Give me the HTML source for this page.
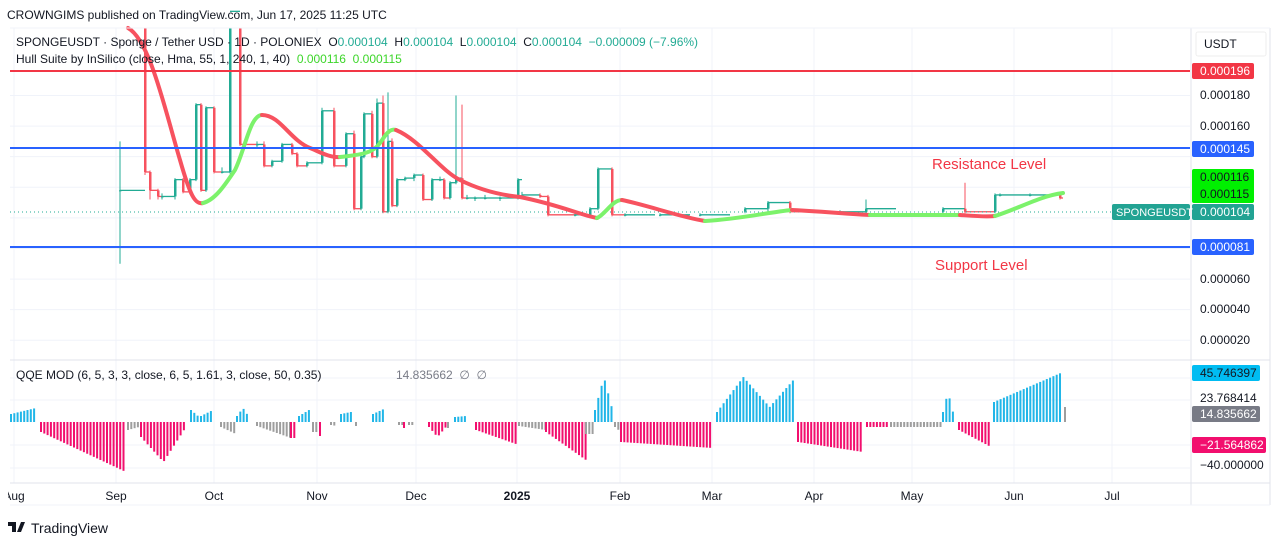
<!DOCTYPE html>
<html><head><meta charset="utf-8"><style>
body{margin:0;background:#fff;width:1281px;height:546px;overflow:hidden;font-family:"Liberation Sans",sans-serif}
svg text{font-family:"Liberation Sans",sans-serif}
</style></head><body>
<svg id="s" width="1281" height="546" xmlns="http://www.w3.org/2000/svg">
<rect width="1281" height="546" fill="#fff"/>
<g id="grid"></g>
<g id="cand"></g>
<g id="hull"></g>
<g id="qqe"></g>
<g id="fg"></g>
</svg>
<script>
const NS="http://www.w3.org/2000/svg";
function el(p,t,a,txt){const e=document.createElementNS(NS,t);for(const k in a)e.setAttribute(k,a[k]);if(txt!==undefined)e.textContent=txt;document.getElementById(p).appendChild(e);return e;}
const Y=p=>71+(196-p)*1.530;
const months=[[14,"Aug"],[116,"Sep"],[214,"Oct"],[317,"Nov"],[416,"Dec"],[517,"2025"],[620,"Feb"],[712,"Mar"],[814,"Apr"],[912,"May"],[1014,"Jun"],[1112,"Jul"]];
months.forEach(m=>{el("grid","line",{x1:m[0],x2:m[0],y1:28,y2:483,stroke:"#f0f3fa","stroke-width":1});});
[180,160,140,120,100,80,60,40,20].forEach(p=>el("grid","line",{x1:10,x2:1190,y1:Y(p),y2:Y(p),stroke:"#f0f3fa"}));
[378,400,445,468].forEach(y=>el("grid","line",{x1:10,x2:1190,y1:y,y2:y,stroke:"#f0f3fa"}));
const C=[[120,118,118,150,70],[145,240,130,240,128],[150,130,118,131,112],[158,118,114,119,112],[162,114,114,116,112],[175,114,125,126,112],[183,125,117,126,116],[190,117,125,126,116],[196,125,174,175,124],[201,174,118,175,117],[206,118,172,173,117],[214,172,130,173,129],[222,130,130,133,129],[230,130,235,240,129],[240,235,148,240,147],[257,148,148,150,146],[264,148,134,150,133],[272,134,137,138,133],[282,137,148,149,136],[292,148,142,149,141],[297,142,134,143,133],[307,134,136,137,133],[322,136,170,172,135],[334,170,134,172,133],[346,134,155,156,133],[354,155,106,157,105],[361,106,140,142,105],[364,140,168,169,139],[372,168,140,170,139],[377,140,175,178,139],[383,175,104,180,103],[388,104,150,182,103],[392,150,108,152,107],[397,108,125,126,107],[405,125,126,127,124],[414,126,128,129,124],[423,128,112,129,111],[432,112,125,126,111],[440,125,125,127,124],[444,125,113,126,112],[450,113,123,124,112],[456,123,126,180,122],[462,126,113,174,112],[467,113,113,115,112],[475,113,113,114,111],[485,113,113,115,112],[500,113,113,114,111],[518,113,125,126,112],[522,115,115,117,113],[540,115,114,116,113],[548,114,102,115,101],[575,102,102,103,101],[590,102,106,107,101],[598,106,132,133,105],[612,132,102,133,101],[625,102,102,103,101],[660,102,102,103,101],[700,102,102,103,101],[745,104,106,107,103],[768,106,110,111,103],[790,110,104,111,103],[840,104,104,105,103],[866,104,106,112,103],[943,104,106,107,103],[965,106,104,123,103],[995,104,115,116,103],[1000,115,115,116,114],[1030,115,115,116,114],[1060,115,113,116,112]];
for(let i=0;i<C.length;i++){const [x,o,c,h,l]=C[i];const col=c>=o?"#22ab94":"#f7525f";const nx=i+1<C.length?C[i+1][0]:x+3;
 el("cand","line",{x1:x,x2:x,y1:Math.max(28,Y(h)),y2:Y(l),stroke:col,"stroke-width":1});
 const y1=Math.max(28,Math.min(Y(o),Y(c))),y2=Math.max(Y(o),Y(c));
 el("cand","rect",{x:x-1,y:y1,width:2.5,height:Math.max(1,y2-y1),fill:col});
 el("cand","line",{x1:x,x2:Math.min(nx,x+30),y1:Y(c),y2:Y(c),stroke:col,"stroke-width":1.3});
}
el("cand","line",{x1:10,x2:1190,y1:212,y2:212,stroke:"#22ab94","stroke-dasharray":"1 3"});
el("fg","line",{x1:10,x2:1190,y1:71,y2:71,stroke:"#f23645","stroke-width":2});
el("fg","line",{x1:10,x2:1190,y1:148,y2:148,stroke:"#2962ff","stroke-width":2});
el("fg","line",{x1:10,x2:1190,y1:247,y2:247,stroke:"#2962ff","stroke-width":2});
const H=[["#f7525f","M128,28 C150,40 165,110 180,160 C190,195 195,205 203,203"],["#7cf26b","M203,203 C215,200 225,185 235,170 C245,150 250,115 262,115"],["#f7525f","M262,115 C280,115 290,140 310,148 C320,152 330,158 340,157"],["#7cf26b","M340,157 C355,155 372,155 380,143 C386,134 390,128 396,130"],["#f7525f","M396,130 C420,140 440,170 460,180 C480,190 500,195 520,197 C560,205 580,215 597,218"],["#7cf26b","M597,218 C605,215 612,200 622,200"],["#f7525f","M622,200 C650,206 680,217 705,221"],["#7cf26b","M705,221 C740,219 770,212 792,210"],["#f7525f","M792,210 C830,212 850,214 870,215"],["#7cf26b","M870,215 C900,215 930,215 960,215"],["#f7525f","M960,215 C975,216 985,217 995,216"],["#7cf26b","M995,216 C1020,208 1040,196 1063,193"]];
H.forEach(h=>el("hull","path",{d:h[1],fill:"none",stroke:h[0],"stroke-width":4,"stroke-linecap":"round"}));
const Z=422;
const S=[[10,35,"b",[8,14]],[40,125,"p",[10,50]],[127,138,"g",[8,5]],[140,185,"p",[15,40,5]],[190,197,"b",[12,6]],[200,212,"b",[6,12]],[220,235,"g",[5,12]],[236,248,"b",[6,14,5]],[256,290,"g",[4,16]],[290,296,"p",[16,16]],[298,308,"b",[6,12]],[312,318,"g",[10,10]],[319,321,"p",[14,14]],[330,336,"g",[3,4]],[340,350,"b",[8,10]],[355,358,"g",[4,4]],[372,385,"b",[8,14]],[398,402,"g",[3,3]],[403,406,"p",[6,6]],[408,412,"g",[3,3]],[428,445,"p",[5,15,5]],[447,450,"g",[6,6]],[454,465,"b",[5,6]],[475,515,"p",[8,22]],[518,545,"g",[4,8]],[545,585,"p",[10,38]],[585,592,"g",[12,12]],[594,612,"b",[12,45,10]],[614,620,"g",[5,10]],[620,712,"p",[20,26]],[716,795,"b",[10,45,15,45]],[797,862,"p",[20,30]],[866,888,"p",[5,5]],[890,940,"g",[5,5]],[942,952,"b",[10,30,10]],[958,990,"p",[8,25]],[993,1062,"b",[20,50]]];
function interp(a,t){if(a.length==1)return a[0];const f=t*(a.length-1),i=Math.min(a.length-2,Math.floor(f));return a[i]+(a[i+1]-a[i])*(f-i);}
const cols={b:"#21b6e8",p:"#f20f6e",g:"#9e9e9e"};
S.forEach(s=>{for(let x=s[0];x<=s[1];x+=3.3){const t=(x-s[0])/Math.max(1,s[1]-s[0]);const h=interp(s[3],t);const up=s[2]=="b";
 el("qqe","rect",{x:x,y:up?Z-h:Z,width:2,height:h,fill:cols[s[2]]});}});
el("qqe","rect",{x:1064,y:Z-15,width:2,height:15,fill:"#9e9e9e"});
el("fg","line",{x1:1191,x2:1191,y1:28,y2:505,stroke:"#e0e3eb"});
el("fg","line",{x1:1270,x2:1270,y1:28,y2:505,stroke:"#e0e3eb"});
el("fg","line",{x1:10,x2:1270,y1:360,y2:360,stroke:"#e0e3eb"});
el("fg","line",{x1:10,x2:1270,y1:483,y2:483,stroke:"#e0e3eb"});
el("fg","line",{x1:10,x2:1270,y1:28,y2:28,stroke:"#f0f3fa"});
el("fg","line",{x1:10,x2:1270,y1:505,y2:505,stroke:"#f0f3fa"});
[[95,"0.000180"],[126,"0.000160"],[279,"0.000060"],[309,"0.000040"],[340,"0.000020"],[398,"23.768414"],[465,"−40.000000"]].forEach(a=>el("fg","text",{x:1200,y:a[0]+4,"font-size":12,fill:"#131722"},a[1]));
el("fg","rect",{x:1196,y:32,width:70,height:24,fill:"#fff",stroke:"#eee",rx:2});
el("fg","text",{x:1204,y:48,"font-size":12,fill:"#131722"},"USDT");
function tag(y,h,w,bg,txt,fc){el("fg","rect",{x:1192,y:y,width:w,height:h,fill:bg,rx:2});el("fg","text",{x:1200,y:y+h/2+4,"font-size":12,fill:fc||"#fff"},txt);}
tag(63,16,62,"#f23645","0.000196");
tag(141,16,62,"#2962ff","0.000145");
tag(169,34,62,"#00f000","","#000");
el("fg","text",{x:1200,y:181,"font-size":12,fill:"#131722"},"0.000116");
el("fg","text",{x:1200,y:198,"font-size":12,fill:"#131722"},"0.000115");
tag(204,16,62,"#22a393","0.000104");
el("fg","rect",{x:1112,y:204,width:78,height:16,fill:"#22a393",rx:2});
el("fg","text",{x:1116,y:216,"font-size":11,fill:"#fff"},"SPONGEUSDT");
tag(239,16,62,"#2962ff","0.000081");
tag(365,16,68,"#00bcf2","45.746397","#131722");
tag(406,16,68,"#787b86","14.835662");
tag(437,16,74,"#f20f6e","−21.564862");
months.forEach(m=>el("fg","text",{x:m[0],y:500,"font-size":12,fill:"#131722","text-anchor":"middle","font-weight":m[1]=="2025"?"bold":"normal"},m[1]));
el("fg","rect",{x:0,y:486,width:8,height:18,fill:"#fff"});
el("fg","text",{x:7,y:19,"font-size":12,fill:"#131722"},"CROWNGIMS published on TradingView.com, Jun 17, 2025 11:25 UTC");
const l1=el("fg","text",{x:16,y:46,"font-size":12,fill:"#131722"});
l1.innerHTML='SPONGEUSDT · Sponge / Tether USD · 1D · POLONIEX  O<tspan fill="#22ab94">0.000104</tspan>  H<tspan fill="#22ab94">0.000104</tspan>  L<tspan fill="#22ab94">0.000104</tspan>  C<tspan fill="#22ab94">0.000104  −0.000009 (−7.96%)</tspan>';
l1.style.whiteSpace="pre";
const l2=el("fg","text",{x:16,y:63,"font-size":12,fill:"#131722"});
l2.innerHTML='Hull Suite by InSilico (close, Hma, 55, 1, 240, 1, 40)  <tspan fill="#3dd62a">0.000116  0.000115</tspan>';l2.style.whiteSpace="pre";
el("fg","text",{x:16,y:379,"font-size":12,fill:"#131722"},"QQE MOD (6, 5, 3, 3, close, 6, 5, 1.61, 3, close, 50, 0.35)");
el("fg","text",{x:396,y:379,"font-size":12,fill:"#787b86"},"14.835662  ∅  ∅").style.whiteSpace="pre";
el("fg","text",{x:932,y:169,"font-size":15,fill:"#f23645"},"Resistance Level");
el("fg","text",{x:935,y:270,"font-size":15,fill:"#f23645"},"Support Level");
el("fg","path",{d:"M8,522 h8 v10 h-4 v-6 h-4z M17,532 l4,-10 h4 l-4,10z",fill:"#131722"});
el("fg","text",{x:31,y:533,"font-size":14,fill:"#131722"},"TradingView");
</script>
</body></html>
